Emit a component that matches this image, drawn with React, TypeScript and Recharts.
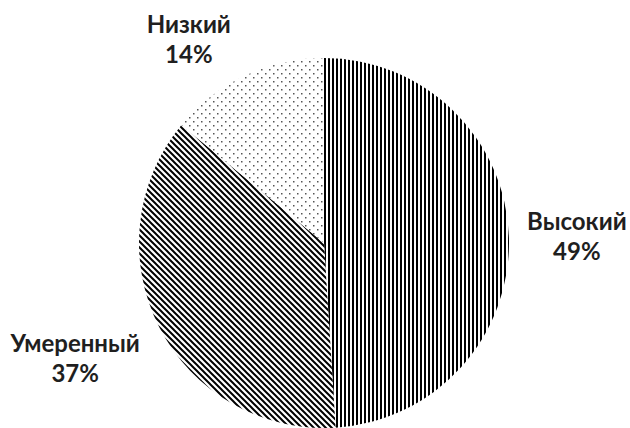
import React from "react";
import { PieChart, Pie, Cell } from "recharts";

const categories = ["Высокий", "Умеренный", "Низкий"];
const values = [49, 37, 14];
const patternIds = ["patVertical", "patDiagonal", "patDots"];

const data = categories.map((name, i) => ({ name, value: values[i] }));

// label nudges (layout only), in px, applied after polar placement
const labelNudge: Record<string, [number, number]> = {
  "Высокий": [13, -5],
  "Умеренный": [-35, 0],
  "Низкий": [-33, 7],
};

const RADIAN = Math.PI / 180;

const renderLabel = (props: any) => {
  const { cx, cy, midAngle, outerRadius, name, percent } = props;
  const r = outerRadius + 55;
  const x = cx + r * Math.cos(-midAngle * RADIAN);
  const y = cy + r * Math.sin(-midAngle * RADIAN);
  const [dx, dy] = labelNudge[name] || [0, 0];
  const px = x + dx;
  const py = y + dy;
  return (
    <text
      x={px}
      y={py}
      textAnchor="middle"
      fill="#1f1f1f"
      style={{ fontFamily: "Lato, 'Open Sans', sans-serif", fontWeight: 700, fontSize: 24 }}
    >
      <tspan x={px} y={py}>{name}</tspan>
      <tspan x={px} y={py + 30}>{`${Math.round(percent * 100)}%`}</tspan>
    </text>
  );
};

export default function App() {
  return (
    <div style={{ position: "absolute", left: 0, top: 0, width: 630, height: 428, background: "#fff" }}>
      <PieChart width={630} height={428} margin={{ top: 0, right: 0, bottom: 0, left: 0 }}>
        <defs>
          <pattern id="patVertical" patternUnits="userSpaceOnUse" width={4} height={4}>
            <rect x={0} y={0} width={4} height={4} fill="#fff" />
            <rect x={0} y={0} width={2} height={4} fill="#000" />
          </pattern>
          <pattern id="patDiagonal" patternUnits="userSpaceOnUse" width={6} height={6}>
            <rect x={0} y={0} width={6} height={6} fill="#fff" />
            <path d="M-1,-1 L7,7 M-1,5 L1,7 M5,-1 L7,1" stroke="#000" strokeWidth={2} />
          </pattern>
          <pattern id="patDots" patternUnits="userSpaceOnUse" width={8} height={8}>
            <rect x={0} y={0} width={8} height={8} fill="#fff" />
            <rect x={1} y={1} width={1.5} height={1.5} fill="#555" />
            <rect x={5} y={5} width={1.5} height={1.5} fill="#555" />
          </pattern>
        </defs>
        <Pie
          data={data}
          dataKey="value"
          nameKey="name"
          cx={324}
          cy={243}
          outerRadius={185}
          startAngle={90}
          endAngle={-270}
          stroke="none"
          labelLine={false}
          label={renderLabel}
          isAnimationActive={false}
        >
          {data.map((d, i) => (
            <Cell key={d.name} fill={`url(#${patternIds[i]})`} />
          ))}
        </Pie>
      </PieChart>
    </div>
  );
}
